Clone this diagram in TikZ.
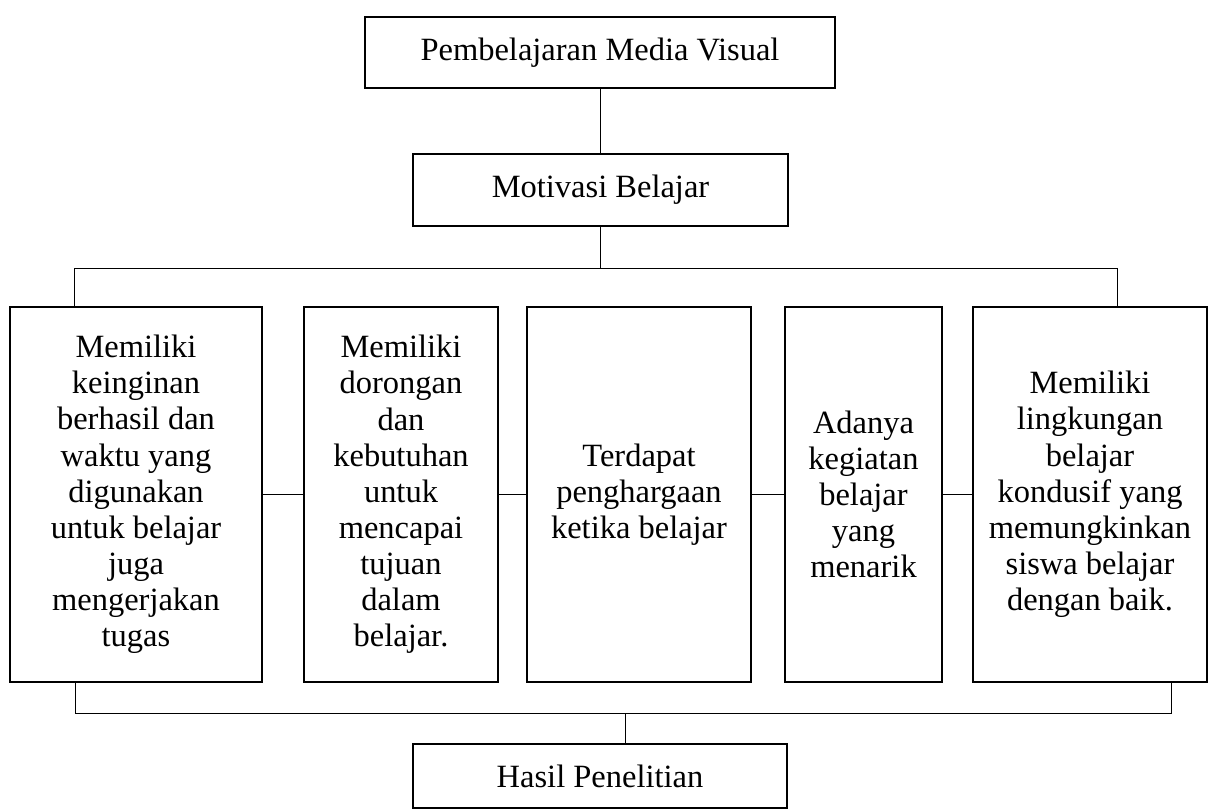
\documentclass[tikz,border=0pt]{standalone}
\usepackage{fontspec}
\setmainfont{Liberation Serif}
\begin{document}
\begin{tikzpicture}[x=0.025cm,y=-0.025cm,
        kotak/.style={shape=rectangle,draw=black,line width=1.4pt,align=center,inner sep=0pt,font=\fontsize{23.1}{25.7}\selectfont},
        garis/.style={draw=black,line width=0.7pt}]
        \useasboundingbox (0,0) rectangle (1209,809);
        \node[kotak,minimum width=11.75cm,minimum height=1.775cm] (media) at (600,52.5) {Pembelajaran Media Visual};
        \node[kotak,minimum width=9.375cm,minimum height=1.8cm] (motivasi) at (600.5,190) {Motivasi Belajar};
        \node[kotak,minimum width=6.3cm,minimum height=9.375cm] (A) at (136,494.5) {Memiliki\\keinginan\\berhasil dan\\waktu yang\\digunakan\\untuk belajar\\juga\\mengerjakan\\tugas};
        \node[kotak,minimum width=4.85cm,minimum height=9.375cm] (B) at (401,494.5) {Memiliki\\dorongan\\dan\\kebutuhan\\untuk\\mencapai\\tujuan\\dalam\\belajar.};
        \node[kotak,minimum width=5.6cm,minimum height=9.375cm] (C) at (639,494.5) {Terdapat\\penghargaan\\ketika belajar};
        \node[kotak,minimum width=3.925cm,minimum height=9.375cm] (D) at (863.5,494.5) {Adanya\\kegiatan\\belajar\\yang\\menarik};
        \node[kotak,minimum width=5.85cm,minimum height=9.375cm] (E) at (1090,494.5) {Memiliki\\lingkungan\\belajar\\kondusif yang\\memungkinkan\\siswa belajar\\dengan baik.};
        \node[kotak,minimum width=9.35cm,minimum height=1.6cm] (hasil) at (600,776) {Hasil Penelitian};
        \coordinate (kiri) at (74,268);
        \coordinate (kanan) at (1117,268);
        \coordinate (kiribawah) at (75,713);
        \coordinate (kananbawah) at (1171,713);
        \coordinate (tengahbawah) at (625,713);
        \path [garis](media.south) edge (media.south |- motivasi.north);
        \path [garis](motivasi.south) edge (motivasi.south |- kiri);
        \draw [garis](A.north -| kiri) -- (kiri) -- (kanan) -- (E.north -| kanan);
        \path [garis](A) edge (B);
        \path [garis](B) edge (C);
        \path [garis](C) edge (D);
        \path [garis](D) edge (E);
        \draw [garis](A.south -| kiribawah) -- (kiribawah) -- (kananbawah) -- (E.south -| kananbawah);
        \path [garis](tengahbawah) edge (tengahbawah |- hasil.north);
    \end{tikzpicture}
\end{document}
